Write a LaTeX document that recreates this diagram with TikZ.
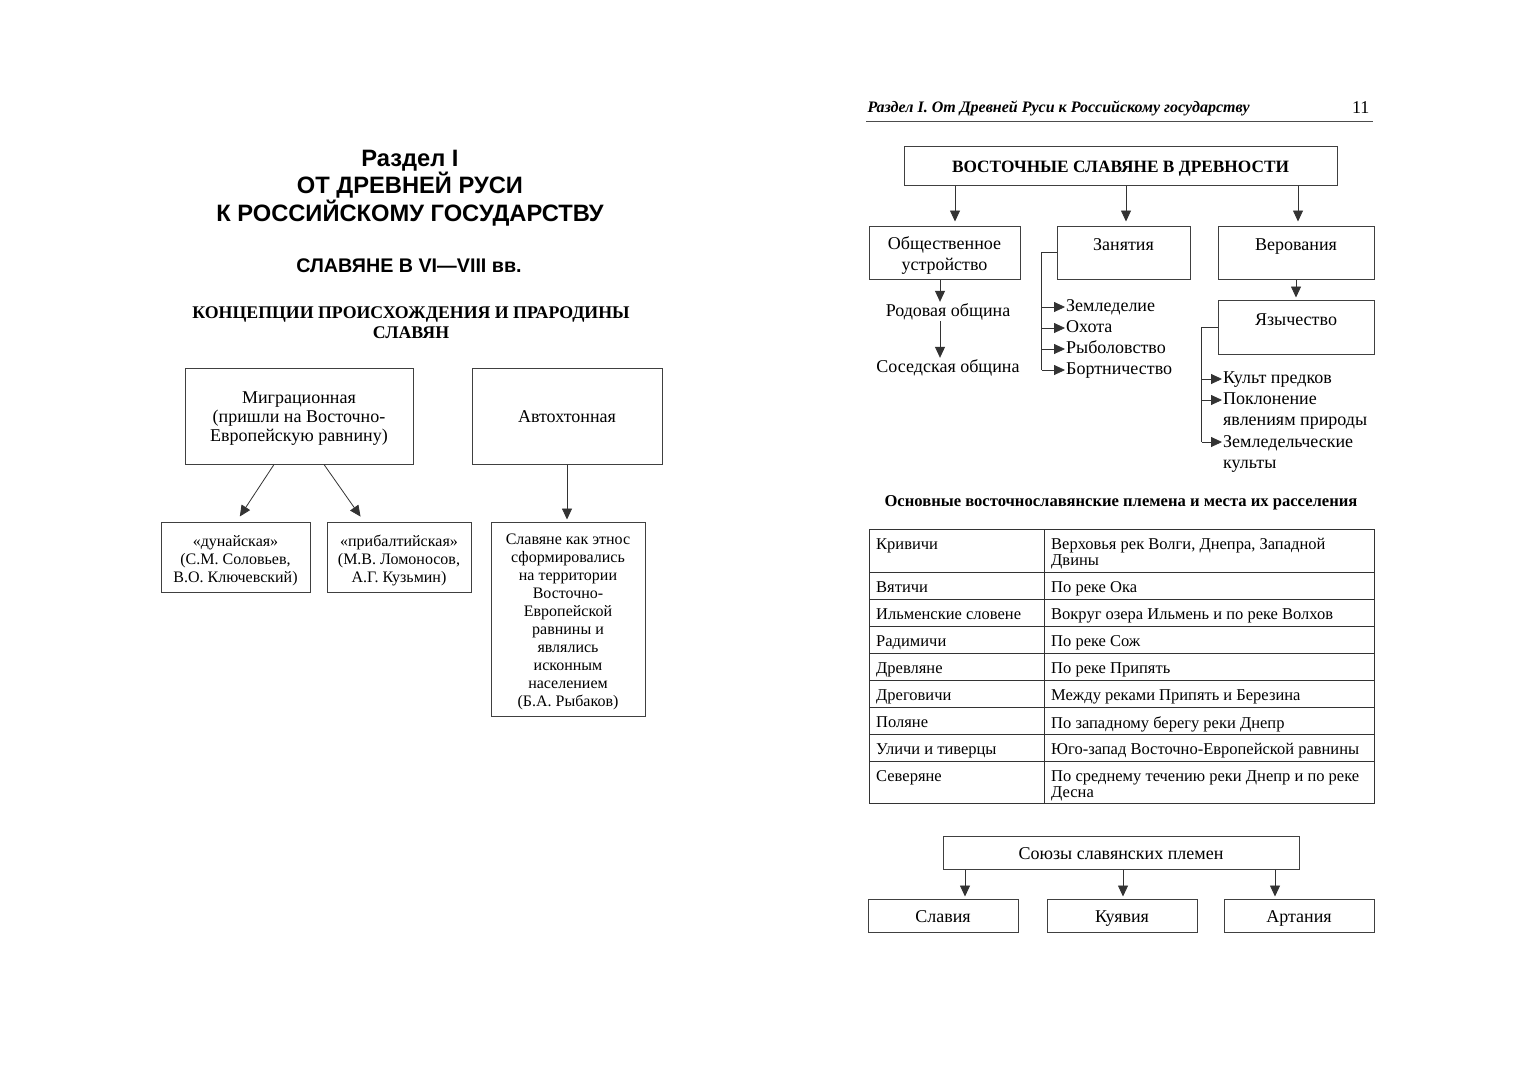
\documentclass[tikz,border=0pt]{standalone}
\usepackage{fontspec}
\setmainfont{Liberation Serif}
\newfontfamily\headsans{Liberation Sans}
\usetikzlibrary{arrows.meta,positioning,calc}

\tikzset{
    box/.style={draw=black!75, line width=1pt, align=center, inner sep=2pt,
        font=\fontsize{18}{21}\selectfont},
    onebox/.style={box, text height=15pt, text depth=2pt},
    smallbox/.style={box, font=\fontsize{16}{18}\selectfont},
    arr/.style={-{Triangle[length=11pt,width=10pt]}, line width=0.8pt, draw=black!80},
    link/.style={line width=0.8pt, draw=black!80},
    item/.style={anchor=west, inner sep=1pt, text height=12pt, text depth=4pt,
        font=\fontsize{18}{21}\selectfont},
    cell/.style={anchor=north west, inner sep=0pt, align=left,
        font=\fontsize{16.5}{16}\selectfont},
}

\begin{document}
\begin{tikzpicture}[x=1pt, y=-1pt]
    \useasboundingbox[fill=white] (0,0) rectangle (1528,1080);

    % Left page: titles
    \node[font=\headsans\bfseries\fontsize{23.7}{27.5}\selectfont, align=center] (part) at (410,188) {Раздел I\\ОТ ДРЕВНЕЙ РУСИ\\К РОССИЙСКОМУ ГОСУДАРСТВУ};
    \node[font=\headsans\bfseries\fontsize{19.7}{22}\selectfont] (topic) at (409,266) {СЛАВЯНЕ В VI—VIII вв.};
    \node[font=\bfseries\fontsize{17.8}{20}\selectfont, align=center] (concept) at (411,323) {КОНЦЕПЦИИ ПРОИСХОЖДЕНИЯ И ПРАРОДИНЫ\\СЛАВЯН};

    % Concepts of origin
    \node[box, minimum width=228, minimum height=96, font=\fontsize{18}{19}\selectfont] (migr) at (299,416) {\rule{0pt}{17pt}Миграционная\\(пришли на Восточно-\\Европейскую равнину)};
    \node[onebox, minimum width=190, minimum height=96] (auto) at (567,416) {Автохтонная};
    \node[smallbox, minimum width=149, minimum height=70] (danube) at (235.5,557) {\rule{0pt}{19pt}«дунайская»\\(С.М. Соловьев,\\В.О. Ключевский)};
    \node[smallbox, minimum width=144, minimum height=70] (baltic) at (399,557) {\rule{0pt}{19pt}«прибалтийская»\\(М.В. Ломоносов,\\А.Г. Кузьмин)};
    \node[smallbox, minimum width=154, minimum height=194] (ethnos) at (568,619) {\rule{0pt}{17pt}Славяне как этнос\\сформировались\\на территории\\Восточно-\\Европейской\\равнины и\\являлись\\исконным\\населением\\(Б.А. Рыбаков)};

    \draw[arr, shorten >=6pt] ([xshift=-25pt]migr.south) -- ([xshift=1pt]danube.north);
    \draw[arr, shorten >=6pt] ([xshift=25pt]migr.south) -- ([xshift=-35pt]baltic.north);
    \draw[arr, shorten >=2pt] (auto.south) -- (auto.south |- ethnos.north);

    % Right page: running head
    \node[anchor=west, font=\bfseries\itshape\fontsize{16}{18}\selectfont] (runhead) at (864,108) {Раздел I. От Древней Руси к Российскому государству};
    \node[anchor=east, font=\fontsize{18}{18}\selectfont] (pagenum) at (1373,108) {11};
    \draw[line width=0.8pt, black!70] (866,121) -- (1373,121);

    % East Slavs
    \node[onebox, minimum width=433, minimum height=39, font=\bfseries\fontsize{17.3}{20}\selectfont] (east) at (1120.5,165.5) {ВОСТОЧНЫЕ СЛАВЯНЕ В ДРЕВНОСТИ};
    \node[box, minimum width=151, minimum height=53] (society) at (944.5,252.5) {\rule{0pt}{18.5pt}Общественное\\устройство};
    \node[box, minimum width=133, minimum height=53] (occup) at (1123.5,252.5) {Занятия\\[-6pt]\mbox{}};
    \node[box, minimum width=156, minimum height=53] (belief) at (1296,252.5) {Верования\\[-6pt]\mbox{}};
    \node[box, minimum width=156, minimum height=54] (pagan) at (1296,327) {Язычество\\[-6pt]\mbox{}};

    \foreach \b/\dx in {society/10.5, occup/2.5, belief/2} {
        \coordinate (\b-in) at ([xshift=\dx pt]\b.north);
        \draw[arr, shorten >=4pt] (\b-in |- east.south) -- (\b-in);
    }

    % Social structure
    \node[item, anchor=center] (clan) at (948,312) {Родовая община};
    \node[item, anchor=center] (neighbour) at (948,368) {Соседская община};
    \coordinate (soc-out) at ([xshift=-4.5pt]society.south);
    \draw[arr, shorten >=1pt] (soc-out) -- (soc-out |- clan.north);
    \draw[arr, shorten >=1pt] (soc-out |- clan.south) -- (soc-out |- neighbour.north);

    % Occupations
    \node[item] (farm) at (1065,307) {Земледелие};
    \node[item] (hunt) at (1065,328) {Охота};
    \node[item] (fish) at (1065,349) {Рыболовство};
    \node[item] (bee)  at (1065,370) {Бортничество};
    \coordinate (occ-bar) at ([xshift=-15pt]occup.west);
    \draw[link] (occup.west) -- (occ-bar) -- (occ-bar |- bee.west);
    \foreach \n in {farm, hunt, fish, bee}
        \draw[arr] (occ-bar |- \n.west) -- (\n.west);

    % Beliefs
    \draw[arr, shorten >=2pt] (belief.south) -- (pagan.north);
    \node[item] (ancestors) at (1222,379) {Культ предков};
    \node[item, anchor=north west, align=left, text height=, text depth=] (nature) at (1222,392) {Поклонение\\явлениям природы};
    \node[item, anchor=north west, align=left, text height=, text depth=] (cults) at (1222,434) {Земледельческие\\культы};
    \coordinate (pag-bar) at ([xshift=-16pt]pagan.west);
    \coordinate (nature-in) at ([yshift=-8pt]nature.north west);
    \coordinate (cults-in) at ([yshift=-8pt]cults.north west);
    \draw[link] (pagan.west) -- (pag-bar) -- (pag-bar |- cults-in);
    \foreach \n in {ancestors.west, nature-in, cults-in}
        \draw[arr] (pag-bar |- \n) -- (\n);

    % Tribes table
    \node[font=\bfseries\fontsize{16.6}{18}\selectfont] (tabtitle) at (1121,503) {Основные восточнославянские племена и места их расселения};
    \draw[link] (869,529) rectangle (1374,803);
    \draw[link] (1044,529) -- (1044,803);
    \foreach \y in {572,599,626,653,680,707,734,761}
        \draw[link] (869,\y) -- (1374,\y);
    \foreach \i/\y/\tribe/\place in {
        1/529/Кривичи/{Верховья рек Волги, Днепра, Западной\\Двины},
        2/572/Вятичи/По реке Ока,
        3/599/Ильменские словене/Вокруг озера Ильмень и по реке Волхов,
        4/626/Радимичи/По реке Сож,
        5/653/Древляне/По реке Припять,
        6/680/Дреговичи/Между реками Припять и Березина,
        7/707/Поляне/По западному берегу реки Днепр,
        8/734/Уличи и тиверцы/Юго-запад Восточно-Европейской равнины,
        9/761/Северяне/{По среднему течению реки Днепр и по реке\\Десна}} {
        \node[cell] (tribe\i) at (876,\y+9) {\tribe};
        \node[cell] (place\i) at (1051,\y+9) {\place};
    }

    % Tribal unions
    \node[onebox, minimum width=356, minimum height=33] (unions) at (1121,852.5) {Союзы славянских племен};
    \node[onebox, minimum width=150, minimum height=33] (slavia) at (943,915.5) {Славия};
    \node[onebox, minimum width=150, minimum height=33] (kuyavia) at (1122,915.5) {Куявия};
    \node[onebox, minimum width=150, minimum height=33] (artania) at (1299,915.5) {Артания};
    \foreach \u/\dx in {slavia/22, kuyavia/1, artania/-24} {
        \coordinate (\u-in) at ([xshift=\dx pt]\u.north);
        \draw[arr, shorten >=2pt] (\u-in |- unions.south) -- (\u-in);
    }
\end{tikzpicture}
\end{document}
